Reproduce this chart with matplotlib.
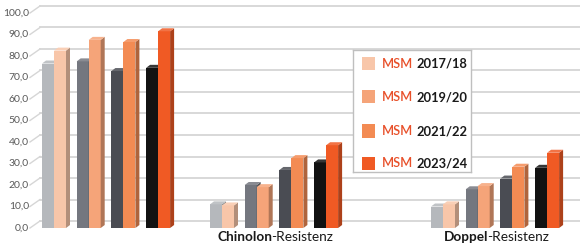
import matplotlib

matplotlib.use("Agg")
import matplotlib.pyplot as plt
from matplotlib.colors import to_rgb
from matplotlib.patches import Polygon, Rectangle

plt.rcParams["font.family"] = ["Lato", "DejaVu Sans"]

# ---- data ------------------------------------------------------------------ #
PERIODS = ["2017/18", "2019/20", "2021/22", "2023/24"]
CAT_BOLD = ["", "Chinolon", "Doppel"]
CAT_REST = ["", "-Resistenz", "-Resistenz"]
# per period, values for the three categories
GREY_VALS = [
    [76.5, 11.0, 10.0],
    [77.5, 20.0, 18.0],
    [73.0, 27.0, 23.0],
    [74.5, 30.5, 28.0],
]
MSM_VALS = [
    [82.5, 10.5, 11.0],
    [87.5, 19.0, 19.5],
    [86.5, 32.5, 28.5],
    [91.5, 38.5, 35.0],
]
Y_TICKS = [0, 10, 20, 30, 40, 50, 60, 70, 80, 90, 100]

GREY_COLORS = ["#b5b8bc", "#74777f", "#4a4c53", "#121212"]
ORANGE_COLORS = ["#f8c6a9", "#f5a479", "#f38b53", "#f05a24"]

# ---- layout (pixels of the 580x247 canvas) --------------------------------- #
W_PX, H_PX = 580, 247
BASE_PY = 228          # pixel row of value 0 (front plane)
PX_PER_UNIT = 2.15
GROUP_LEFT = [42, 210, 431]
PAIR_STEP = 34.7
BAR_W = 12
DX = 4                 # depth offset in px
DY = 3 / PX_PER_UNIT   # depth offset in value units
WALL_DY = 7 / PX_PER_UNIT
GRID_COLOR = "#d6d6d6"


def shade(color, f):
    r, g, b = to_rgb(color)
    return (r * f, g * f, b * f)


def tint(color, f):
    r, g, b = to_rgb(color)
    return (r + (1 - r) * f, g + (1 - g) * f, b + (1 - b) * f)


def bar3d(ax, x, v, color, z):
    ax.bar(x, v, width=BAR_W, align="edge", color=color, lw=0, zorder=z)
    side = [(x + BAR_W, 0), (x + BAR_W, v), (x + BAR_W + DX, v + DY), (x + BAR_W + DX, DY)]
    top = [(x, v), (x + BAR_W, v), (x + BAR_W + DX, v + DY), (x + DX, v + DY)]
    ax.add_patch(Polygon(side, closed=True, fc=shade(color, 0.72), lw=0, zorder=z))
    ax.add_patch(Polygon(top, closed=True, fc=tint(color, 0.15), lw=0, zorder=z))


fig = plt.figure(figsize=(W_PX / 100, H_PX / 100), dpi=100)
ax = fig.add_axes([0, 0, 1, 1])
ax.set_xlim(0, W_PX)
ax.set_ylim(-(H_PX - BASE_PY) / PX_PER_UNIT, BASE_PY / PX_PER_UNIT)
ax.axis("off")

# back-wall gridlines with slanted connectors and value labels
for v in Y_TICKS:
    ax.plot([40, W_PX], [v + WALL_DY, v + WALL_DY], color=GRID_COLOR, lw=1.3, zorder=0)
    ax.plot([30, 40], [v, v + WALL_DY], color=GRID_COLOR, lw=1.0, zorder=0)
    ax.text(29, v, f"{v:.1f}".replace(".", ","), ha="right", va="center",
            fontsize=7.5, color="#595959")

# bars
z = 2
for g in range(len(CAT_BOLD)):
    for p in range(len(PERIODS)):
        x0 = GROUP_LEFT[g] + p * PAIR_STEP
        bar3d(ax, x0, GREY_VALS[p][g], GREY_COLORS[p], z)
        bar3d(ax, x0 + BAR_W, MSM_VALS[p][g], ORANGE_COLORS[p], z + 1)
        z += 2

# category labels: bold part + regular part, centred under each group
fig.canvas.draw()
renderer = fig.canvas.get_renderer()
label_y = (BASE_PY - 237) / PX_PER_UNIT
for g in range(len(CAT_BOLD)):
    if not CAT_BOLD[g]:
        continue
    cx = GROUP_LEFT[g] + (3 * PAIR_STEP + 2 * BAR_W + DX) / 2
    t1 = ax.text(cx, label_y, CAT_BOLD[g], fontsize=9.8, weight="bold",
                 ha="left", va="center", color="#1a1a1a")
    t2 = ax.text(cx, label_y, CAT_REST[g], fontsize=9.8,
                 ha="left", va="center", color="#1a1a1a")
    w1 = t1.get_window_extent(renderer).width
    w2 = t2.get_window_extent(renderer).width
    start = cx - (w1 + w2) / 2
    t1.set_x(start)
    t2.set_x(start + w1 - 1)

# legend box
lx0, ly0, lx1, ly1 = 353, 50, 471, 172
lax = fig.add_axes([lx0 / W_PX, (H_PX - ly1) / H_PX, (lx1 - lx0) / W_PX, (ly1 - ly0) / H_PX])
lax.set_xlim(0, lx1 - lx0)
lax.set_ylim(ly1 - ly0, 0)
lax.set_xticks([])
lax.set_yticks([])
for s in lax.spines.values():
    s.set_color("#bfbfbf")
    s.set_linewidth(1.0)
entry_y = [14, 47, 81, 113]
for i, per in enumerate(PERIODS):
    lax.add_patch(Rectangle((9, entry_y[i] - 6.5), 13, 13, fc=ORANGE_COLORS[i], lw=0))
    t = lax.text(29, entry_y[i], "MSM", fontsize=9.3, weight="semibold", color="#e8502a",
                 ha="left", va="center")
    lax.annotate(per, xy=(1, 0.5), xycoords=t, xytext=(2, 0), textcoords="offset points",
                 fontsize=9.3, weight="bold", color="#1a1a1a", ha="left", va="center")

fig.savefig("out.png", dpi=100)
